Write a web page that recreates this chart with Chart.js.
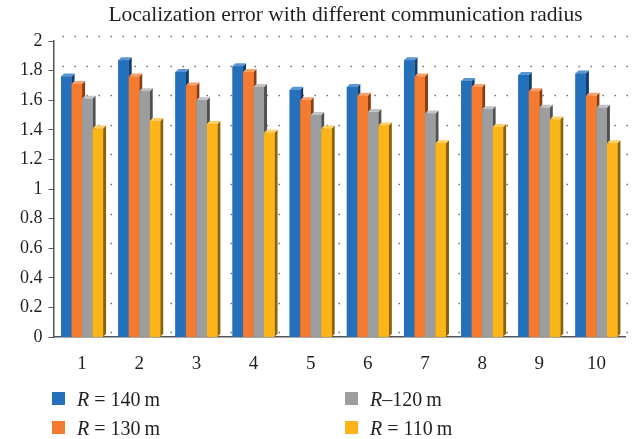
<!DOCTYPE html>
<html>
<head>
<meta charset="utf-8">
<script src="https://cdn.jsdelivr.net/npm/chart.js@4"></script>
<style>
  body { margin: 0; background: #fff; }
  #wrap { position: relative; width: 641px; height: 439px; }
  #title { position: absolute; left: 0; width: 691px; top: 1px; text-align: center; font-family: "Liberation Serif", serif; font-size: 21.5px; line-height: 26px; color: #231f20; white-space: nowrap; }
  .legend { position: absolute; font-family: "Liberation Serif", serif; font-size: 20px; line-height: 22px; color: #231f20; white-space: nowrap; }
  .legend span.box { position: absolute; left: 0; top: 4px; width: 13px; height: 13px; }
  .legend span.txt { position: absolute; left: 25px; top: 0; }
</style>
</head>
<body>
<div id="wrap">
  <canvas id="chart" width="641" height="439"></canvas>
  <div id="title">Localization error with different communication radius</div>
  <div class="legend" style="left:52px; top:388px;"><span class="box" style="background:#2470bb"></span><span class="txt"><i>R</i> = 140&thinsp;m</span></div>
  <div class="legend" style="left:52px; top:417px;"><span class="box" style="background:#f47a30"></span><span class="txt"><i>R</i> = 130&thinsp;m</span></div>
  <div class="legend" style="left:345px; top:388px;"><span class="box" style="background:#9b9d9f"></span><span class="txt"><i>R</i>–120&thinsp;m</span></div>
  <div class="legend" style="left:345px; top:417px;"><span class="box" style="background:#fcb418"></span><span class="txt"><i>R</i> = 110&thinsp;m</span></div>
</div>
<script>
const labels = ["1", "2", "3", "4", "5", "6", "7", "8", "9", "10"];
const r140 = [1.76, 1.87, 1.79, 1.83, 1.67, 1.69, 1.87, 1.73, 1.77, 1.78];
const r130 = [1.71, 1.76, 1.70, 1.79, 1.60, 1.63, 1.76, 1.69, 1.66, 1.63];
const r120 = [1.61, 1.66, 1.60, 1.69, 1.50, 1.52, 1.51, 1.54, 1.55, 1.55];
const r110 = [1.41, 1.46, 1.44, 1.38, 1.41, 1.43, 1.31, 1.42, 1.47, 1.31];
const seriesNames = ["R = 140 m", "R = 130 m", "R\u2013120 m", "R = 110 m"];

const fronts = ["#2470bb", "#f47a30", "#9b9d9f", "#fcb418"];
const sides = ["#123e6c", "#8c3d10", "#4e5052", "#8a6208"];
const tops = ["#5a96d2", "#f7a06a", "#c2c3c4", "#fdd060"];
const depth = 3;

// dotted back-wall grid
const backGrid = {
  id: "backGrid",
  beforeDatasetsDraw(chart) {
    const ctx = chart.ctx;
    const y = chart.scales.y;
    const area = chart.chartArea;
    ctx.save();
    ctx.strokeStyle = "#666";
    ctx.lineWidth = 1.4;
    ctx.setLineDash([1.4, 10.6]);
    y.ticks.forEach(t => {
      const py = Math.round(y.getPixelForValue(t.value) - 5) + 0.5;
      ctx.beginPath();
      ctx.moveTo(area.left + 9, py);
      ctx.lineTo(area.right + 4, py);
      ctx.stroke();
    });
    ctx.restore();
  }
};

// fake 3D side and top faces
const bars3d = {
  id: "bars3d",
  afterDatasetsDraw(chart) {
    const ctx = chart.ctx;
    ctx.save();
    chart.data.datasets.forEach((ds, i) => {
      const meta = chart.getDatasetMeta(i);
      meta.data.forEach(el => {
        const p = el.getProps(["x", "y", "base", "width"], true);
        const l = p.x - p.width / 2, r = p.x + p.width / 2;
        ctx.fillStyle = sides[i];
        ctx.beginPath();
        ctx.moveTo(r, p.y);
        ctx.lineTo(r + depth, p.y - depth);
        ctx.lineTo(r + depth, p.base - depth);
        ctx.lineTo(r, p.base);
        ctx.closePath();
        ctx.fill();
        ctx.fillStyle = tops[i];
        ctx.beginPath();
        ctx.moveTo(l, p.y);
        ctx.lineTo(l + depth, p.y - depth);
        ctx.lineTo(r + depth, p.y - depth);
        ctx.lineTo(r, p.y);
        ctx.closePath();
        ctx.fill();
        el.draw(ctx);
      });
    });
    ctx.restore();
  }
};

const ctx = document.getElementById("chart").getContext("2d");
new Chart(ctx, {
  type: "bar",
  data: {
    labels: labels,
    datasets: [r140, r130, r120, r110].map((d, i) => ({
      label: seriesNames[i],
      data: d,
      backgroundColor: fronts[i],
      borderWidth: 0,
      barPercentage: 1,
      categoryPercentage: 0.735
    }))
  },
  options: {
    responsive: false,
    animation: false,
    layout: { padding: { left: 14, right: 16, top: 41, bottom: 57 } },
    plugins: {
      legend: { display: false },
      tooltip: { enabled: false },
      title: { display: false }
    },
    scales: {
      x: {
        grid: { display: false },
        border: { display: true, color: "#555", width: 1.5 },
        ticks: { font: { family: "Liberation Serif", size: 19 }, color: "#231f20", padding: 7 }
      },
      y: {
        min: 0,
        max: 2,
        ticks: {
          stepSize: 0.2,
          font: { family: "Liberation Serif", size: 18 },
          color: "#231f20",
          padding: 6,
          callback: v => String(+v.toFixed(1))
        },
        grid: { drawOnChartArea: false, drawTicks: true, tickLength: 5, color: "#555" },
        border: { color: "#555", width: 1.5 }
      }
    }
  },
  plugins: [backGrid, bars3d]
});
</script>
</body>
</html>
